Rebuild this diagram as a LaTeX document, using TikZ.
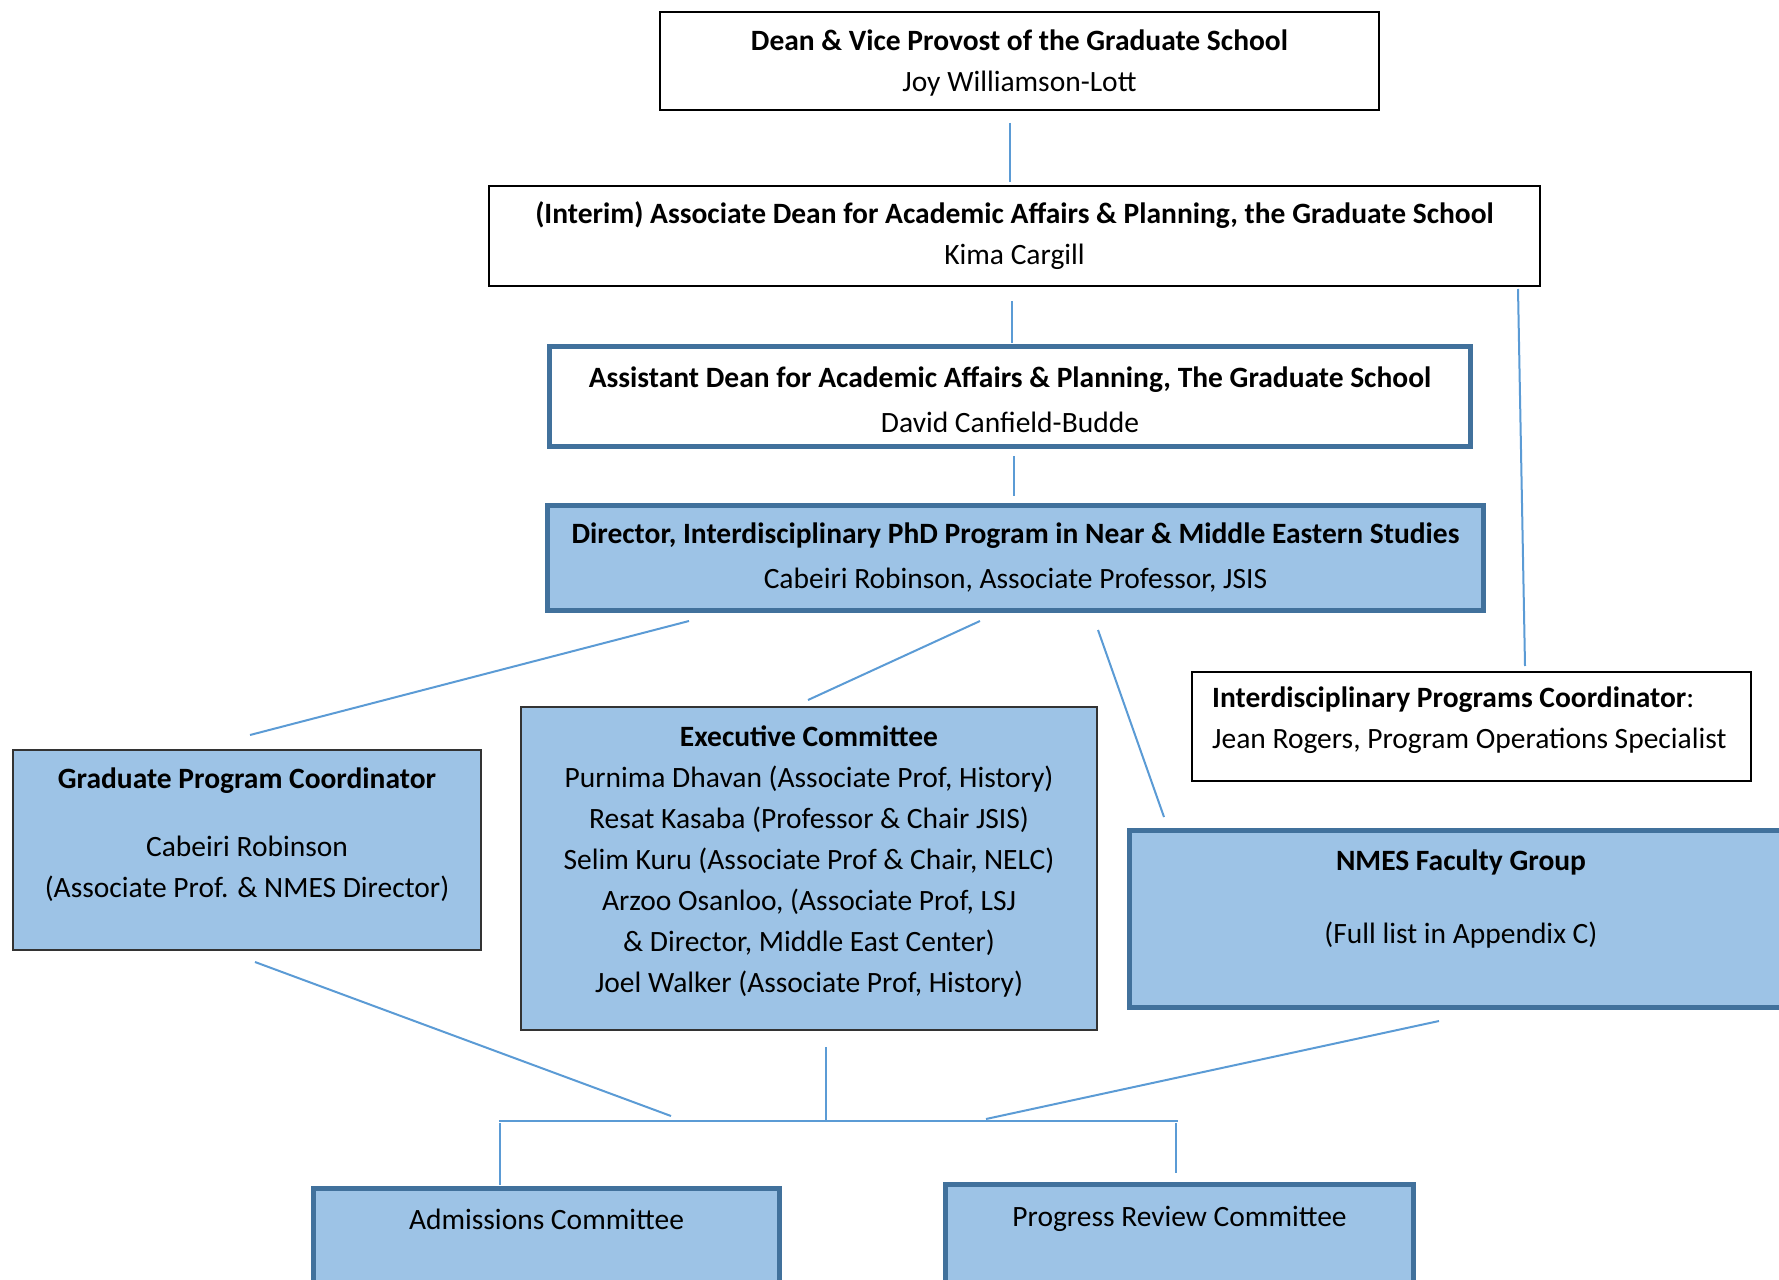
\documentclass[tikz,border=0pt]{standalone}
\usepackage{fontspec}
\setmainfont{Carlito}
\usetikzlibrary{calc}
\definecolor{boxblue}{HTML}{9DC3E6}
\definecolor{edgeblue}{HTML}{41719C}
\definecolor{lineblue}{HTML}{5B9BD5}
\tikzset{
	plainbox/.style={draw=black, line width=2pt, fill=white, align=center, inner sep=0pt},
	bluebox/.style={draw=black!80, line width=2pt, fill=boxblue, align=center, inner sep=0pt},
	thickbox/.style={draw=edgeblue, line width=5pt, align=center, inner sep=0pt},
	conn/.style={draw=lineblue, line width=2pt},
	txt/.style={align=center, inner sep=0pt}
}
\begin{document}
\begin{tikzpicture}[x=1pt, y=-1pt, font=\fontsize{29.5}{41}\selectfont]
			\useasboundingbox (0,0) rectangle (1779,1279);
			% boxes
			\node[plainbox, minimum width=719, minimum height=98] (dean) at (1019.5,61) {};
			\node[txt] (deantxt) at (1019.5,63) {\textbf{Dean \& Vice Provost of the Graduate School}\\Joy Williamson-Lott};
			\node[plainbox, minimum width=1051, minimum height=100] (assoc) at (1014.5,236) {\textbf{(Interim) Associate Dean for Academic Affairs \& Planning, the Graduate School}\\Kima Cargill};
			\node[thickbox, fill=white, minimum width=921, minimum height=100] (asst) at (1010,396.5) {};
			\node[txt] (assttxt) at (1010,400) {\textbf{Assistant Dean for Academic Affairs \& Planning, The Graduate School}\\[4pt]David Canfield-Budde};
			\node[thickbox, fill=boxblue, minimum width=936, minimum height=105] (dir) at (1015.5,558) {\textbf{Director, Interdisciplinary PhD Program in Near \& Middle Eastern Studies}\\[4pt]Cabeiri Robinson, Associate Professor, JSIS};
			\node[plainbox, minimum width=559, minimum height=109] (ipc) at (1471.5,726.5) {};
			\node[txt, align=left, anchor=west] (ipctxt) at (1212,720) {\textbf{Interdisciplinary Programs Coordinator}:\\Jean Rogers, Program Operations Specialist};
			\node[bluebox, minimum width=468, minimum height=200] (gpc) at (247,850) {};
			\node[txt, anchor=north] (gpctxt) at ($(gpc.north)+(0,19)$) {\textbf{Graduate Program Coordinator}\\[27pt]Cabeiri Robinson\\(Associate Prof. \& NMES Director)};
			\node[bluebox, minimum width=576, minimum height=323] (exec) at (809,868.5) {};
			\node[txt, anchor=north] (exectxt) at ($(exec.north)+(0,20)$) {\textbf{Executive Committee}\\Purnima Dhavan (Associate Prof, History)\\Resat Kasaba (Professor \& Chair JSIS)\\Selim Kuru (Associate Prof \& Chair, NELC)\\Arzoo Osanloo, (Associate Prof, LSJ\\\& Director, Middle East Center)\\Joel Walker (Associate Prof, History)};
			\node[thickbox, fill=boxblue, minimum width=663, minimum height=177] (nmes) at (1461,919) {};
			\node[txt, anchor=north] (nmestxt) at ($(nmes.north)+(0,22)$) {\textbf{NMES Faculty Group}\\[32pt](Full list in Appendix C)};
			\node[thickbox, fill=boxblue, minimum width=466, minimum height=129] (adm) at (546.5,1253) {};
			\node[txt] (admtxt) at (546.5,1219) {Admissions Committee};
			\node[thickbox, fill=boxblue, minimum width=468, minimum height=133] (prog) at (1179.5,1251) {};
			\node[txt] (progtxt) at (1179.5,1219) {Progress Review Committee};
			% connectors
			\coordinate (barL) at (499,1121);
			\coordinate (barR) at (1178,1121);
			\draw[conn] ($(dean.south)+(-9.5,12)$) -- ($(assoc.north)+(-4.5,-3)$);
			\draw[conn] ($(assoc.south)+(-2.5,14)$) -- ($(asst.north)+(2,-1)$);
			\draw[conn] ($(asst.south)+(4,7)$) -- ($(dir.north)+(-1.5,-7)$);
			\draw[conn] ($(assoc.south east)+(-23,2)$) -- ($(ipc.north)+(53.5,-5)$);
			\draw[conn] ($(dir.south)+(-326.5,8)$) -- ($(gpc.north)+(3,-14)$);
			\draw[conn] ($(dir.south)+(-35.5,8)$) -- ($(exec.north)+(-1,-6)$);
			\draw[conn] ($(dir.south)+(82.5,17)$) -- ($(nmes.north west)+(37,-11)$);
			\draw[conn] ($(gpc.south)+(8,11)$) -- ($(barL)+(172,-5)$);
			\draw[conn] ($(exec.south)+(17,16)$) -- ($(barL)+(327,0)$);
			\draw[conn] ($(nmes.south)+(-22,11)$) -- ($(barL)+(487,-2)$);
			\draw[conn] (barL) -- (barR);
			\draw[conn] ($(barL)+(1,2)$) -- ($(adm.north west)+(189,-1)$);
			\draw[conn] ($(barR)+(-2,2)$) -- ($(prog.north)+(-3.5,-9)$);
		\end{tikzpicture}
\end{document}
